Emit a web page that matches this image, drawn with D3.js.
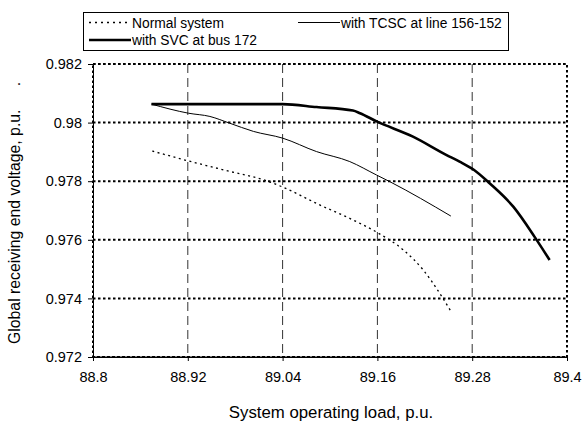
<!DOCTYPE html>
<html>
<head>
<meta charset="utf-8">
<script src="https://cdn.jsdelivr.net/npm/d3@7"></script>
<style>
  body { margin: 0; background: #fff; }
  text { font-family: "Liberation Sans", Arial, sans-serif; fill: #000; }
</style>
</head>
<body>
<div id="chart"></div>
<script>
// chart size
const width = 584, height = 421;
const margin = {top: 64, right: 17, bottom: 64, left: 93};

// tick values
const xTicks = [88.8, 88.92, 89.04, 89.16, 89.28, 89.4];
const yTicks = [0.972, 0.974, 0.976, 0.978, 0.98, 0.982];

// series: load (x) and voltage (y)
const normalX = [88.875, 88.921, 88.969, 89.020, 89.041, 89.087, 89.125, 89.161, 89.193, 89.218, 89.239, 89.253];
const normalY = [0.97903, 0.97869, 0.97836, 0.97801, 0.97779, 0.97719, 0.97673, 0.97623, 0.97565, 0.97497, 0.97417, 0.97356];

const tcscX = [88.874, 88.921, 88.948, 88.973, 89.003, 89.040, 89.083, 89.125, 89.159, 89.176, 89.253];
const tcscY = [0.98063, 0.98032, 0.98021, 0.97998, 0.97970, 0.97947, 0.97901, 0.97867, 0.97821, 0.97798, 0.97681];

const svcX = [88.874, 89.040, 89.083, 89.129, 89.138, 89.159, 89.205, 89.247, 89.264, 89.282, 89.302, 89.332, 89.359, 89.378];
const svcY = [0.98063, 0.98063, 0.98053, 0.98041, 0.98032, 0.98004, 0.97952, 0.97890, 0.97867, 0.97839, 0.97793, 0.97713, 0.97610, 0.97531];

const series = [
  {name: "Normal system", xs: normalX, ys: normalY, w: 1.3, dash: "2,3.5"},
  {name: "with TCSC at line 156-152", xs: tcscX, ys: tcscY, w: 1, dash: null},
  {name: "with SVC at bus 172", xs: svcX, ys: svcY, w: 2.6, dash: null}
];

let svg = d3.select("#chart").append("svg")
  .attr("width", width)
  .attr("height", height);

let plotW = width - margin.left - margin.right;
let plotH = height - margin.top - margin.bottom;

let x = d3.scaleLinear().domain([88.8, 89.4]).range([0, plotW]);
let y = d3.scaleLinear().domain([0.972, 0.982]).range([plotH, 0]);

let g = svg.append("g").attr("transform", `translate(${margin.left}, ${margin.top})`);

// vertical dashed grid
g.selectAll("line.vgrid").data(xTicks.slice(1, -1)).enter().append("line")
  .attr("class", "vgrid")
  .attr("x1", d => x(d)).attr("x2", d => x(d))
  .attr("y1", 0).attr("y2", plotH)
  .attr("stroke", "#333").attr("stroke-width", 1)
  .attr("stroke-dasharray", "9,5");

// horizontal dotted grid
g.selectAll("line.hgrid").data(yTicks).enter().append("line")
  .attr("class", "hgrid")
  .attr("x1", 0).attr("x2", plotW)
  .attr("y1", d => y(d)).attr("y2", d => y(d))
  .attr("stroke", "#000").attr("stroke-width", 2)
  .attr("stroke-dasharray", "2.5,2.5");

// dotted plot border
g.append("rect")
  .attr("x", 0).attr("y", 0)
  .attr("width", plotW).attr("height", plotH)
  .attr("fill", "none").attr("stroke", "#000")
  .attr("stroke-width", 2).attr("stroke-dasharray", "2.5,2.5");

// axes
let xAxis = g.append("g")
  .attr("transform", `translate(0, ${plotH})`)
  .call(d3.axisBottom(x).tickValues(xTicks).tickSize(4).tickPadding(11).tickFormat(d3.format("")));
let yAxis = g.append("g")
  .call(d3.axisLeft(y).tickValues(yTicks).tickSize(5).tickPadding(6).tickFormat(d3.format("")));

[xAxis, yAxis].forEach(a => {
  a.select(".domain").attr("stroke", "#000").attr("stroke-width", 1);
  a.selectAll(".tick line").attr("stroke", "#000");
  a.selectAll("text").style("font-family", "Liberation Sans, Arial, sans-serif").style("font-size", "14.5px").attr("fill", "#000");
});

// lines
let line = d3.line().curve(d3.curveMonotoneX);
series.forEach(s => {
  let pts = s.xs.map((v, i) => [x(v), y(s.ys[i])]);
  g.append("path")
    .attr("d", line(pts))
    .attr("fill", "none")
    .attr("stroke", "#000")
    .attr("stroke-width", s.w)
    .attr("stroke-dasharray", s.dash);
});

// axis titles
svg.append("text")
  .attr("x", 331).attr("y", 418)
  .attr("text-anchor", "middle")
  .style("font-size", "16.8px")
  .text("System operating load, p.u.");

svg.append("text")
  .attr("transform", "translate(19.5, 344) rotate(-90)")
  .attr("text-anchor", "start")
  .style("font-size", "15.8px")
  .text("Global receiving end voltage, p.u.");
svg.append("text")
  .attr("transform", "translate(19.5, 84) rotate(-90)")
  .attr("text-anchor", "middle")
  .style("font-size", "15.8px")
  .text(".");

// legend
let legend = svg.append("g");
legend.append("rect")
  .attr("x", 83.5).attr("y", 12.5)
  .attr("width", 425).attr("height", 38)
  .attr("fill", "#fff").attr("stroke", "#000").attr("stroke-width", 1);

let legendPos = [[89, 22.5], [298, 22.5], [89, 40]];
series.forEach((s, i) => {
  let [lx, ly] = legendPos[i];
  legend.append("line")
    .attr("x1", lx).attr("x2", lx + 42)
    .attr("y1", ly).attr("y2", ly)
    .attr("stroke", "#000").attr("stroke-width", s.w)
    .attr("stroke-dasharray", s.dash ? "2,4" : null);
  legend.append("text")
    .attr("x", lx + 43).attr("y", ly + 5)
    .style("font-size", "13.8px")
    .text(s.name);
});
</script>
</body>
</html>
